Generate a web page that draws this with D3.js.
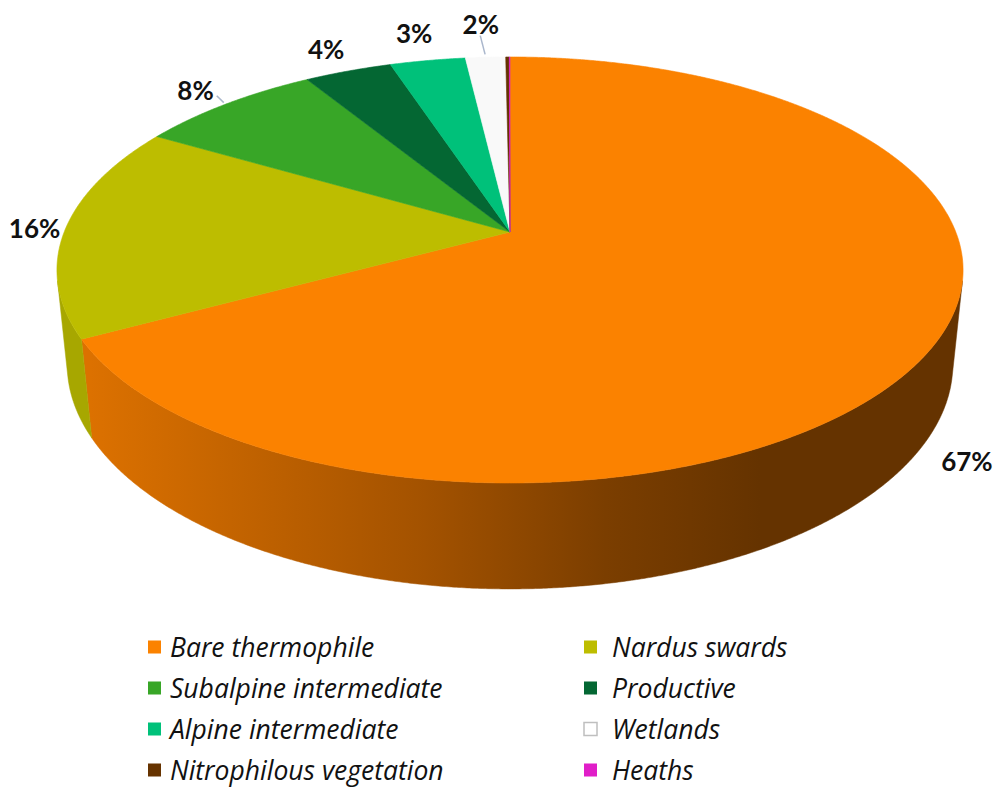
<!DOCTYPE html>
<html>
<head>
<meta charset="utf-8">
<script src="https://cdn.jsdelivr.net/npm/d3@7"></script>
<style>
  body { margin: 0; background: #fff; }
  svg { display: block; }
</style>
</head>
<body>
<script>
// vegetation types, share of area (%)
var categories = ["Bare thermophile", "Nardus swards", "Subalpine intermediate", "Productive",
	"Alpine intermediate", "Wetlands", "Nitrophilous vegetation", "Heaths"];
var values = [67.1, 16.3, 7.8, 3.7, 3.2, 1.7, 0.15, 0.03];
var colors = ["#fb8200", "#bdbd00", "#38a627", "#046733", "#00c17a", "#f9f9f9", "#663300", "#e01ec8"];
var leaderFor = ["Subalpine intermediate", "Wetlands"];

var width = 1002, height = 787;

// camera for the tilted pie (perspective, like the office 3d pie)
var cam = {cx: 510, cy: 232, f: 2216.5, d: 4.972, s: 0.4626, c: 0.8866, h: 0.2405};

function proj(r, a, z) {
	var x = r * Math.sin(a), y = r * Math.cos(a);
	var dist = cam.d + y * cam.c - z * cam.s;
	var up = y * cam.s + z * cam.c;
	return [cam.cx + cam.f * x / dist, cam.cy - cam.f * up / dist];
}

function arcPoints(a0, a1, z) {
	var n = Math.max(2, Math.ceil((a1 - a0) / 0.005));
	var pts = [];
	for (var i = 0; i <= n; i++) pts.push(proj(1, a0 + (a1 - a0) * i / n, z));
	return pts;
}

var svg = d3.select("body").append("svg")
	.attr("width", width)
	.attr("height", height);

var defs = svg.append("defs");
var grad = defs.append("linearGradient")
	.attr("id", "wallOrange")
	.attr("gradientUnits", "userSpaceOnUse")
	.attr("x1", 90).attr("x2", 760).attr("y1", 0).attr("y2", 0);
[[0, "#dc7100"], [0.5, "#a35200"], [0.77, "#7b3e00"], [1, "#653300"]].forEach(function(s) {
	grad.append("stop").attr("offset", s[0]).attr("stop-color", s[1]);
});

var pie = d3.pie().sort(null).value(function(d) { return d; });
var slices = pie(values);

var line = d3.line();

// visible part of the outer wall
var vis0 = Math.acos(-1 / (cam.d * cam.c));
var vis1 = 2 * Math.PI - vis0;

var g = svg.append("g");

// walls first
slices.forEach(function(sl, i) {
	var a0 = Math.max(sl.startAngle, vis0), a1 = Math.min(sl.endAngle, vis1);
	if (a1 <= a0) return;
	var top = arcPoints(a0, a1, 0);
	var bot = arcPoints(a0, a1, -cam.h).reverse();
	var fill = i === 0 ? "url(#wallOrange)" : d3.color(colors[i]).darker(0.35).formatHex();
	g.append("path")
		.attr("d", line(top.concat(bot)) + "Z")
		.attr("fill", fill)
		.attr("stroke", fill)
		.attr("stroke-width", 0.5);
});

// top faces
slices.forEach(function(sl, i) {
	var pts = [proj(0, 0, 0)].concat(arcPoints(sl.startAngle, sl.endAngle, 0));
	g.append("path")
		.attr("d", line(pts) + "Z")
		.attr("fill", colors[i])
		.attr("stroke", colors[i])
		.attr("stroke-width", 0.6);
});

// data labels
var total = d3.sum(values);
var center = proj(0, 0, 0);
slices.forEach(function(sl, i) {
	var pct = Math.round(sl.value / total * 100);
	if (pct < 1) return;
	var mid = (sl.startAngle + sl.endAngle) / 2;
	var near = Math.cos(mid) < -0.2;
	var hasLeader = leaderFor.indexOf(categories[i]) >= 0;
	var t = g.append("text")
		.attr("font-family", "Lato, 'Open Sans', sans-serif")
		.attr("font-weight", "bold")
		.attr("font-size", 26)
		.attr("fill", "#111")
		.attr("text-anchor", "middle")
		.attr("dominant-baseline", "central")
		.text(pct + "%");
	var bb = t.node().getBBox();
	var anchor = proj(1, mid, near ? -cam.h : 0);
	var dx = anchor[0] - center[0], dy = anchor[1] - center[1];
	var len = Math.sqrt(dx * dx + dy * dy);
	var ux = dx / len, uy = dy / len;
	var lx, ly;
	if (near) {
		var p = proj(1.1, mid, -cam.h);
		lx = p[0]; ly = p[1];
	} else {
		var off = 31 + (hasLeader ? 3 : 0);
		lx = anchor[0] + ux * off; ly = anchor[1] + uy * off;
	}
	t.attr("x", lx).attr("y", ly);
	if (hasLeader) {
		var side = Math.abs(ux) > 0.7;
		var ex = side ? lx - ux / Math.abs(ux) * (bb.width / 2 + 3) : lx + ux * 4;
		var ey = side ? ly + 6 : ly + bb.height / 2 - 4;
		g.append("line")
			.attr("x1", ex).attr("y1", ey)
			.attr("x2", anchor[0] + ux * 3).attr("y2", anchor[1] + uy * 3)
			.attr("stroke", "#aab7cc")
			.attr("stroke-width", 1.5);
	}
});

// legend, two columns
var legend = svg.append("g");
var colX = [148, 584], rowY0 = 647, rowStep = 41;
categories.forEach(function(name, i) {
	var col = i % 2, row = Math.floor(i / 2);
	var item = legend.append("g")
		.attr("transform", "translate(" + colX[col] + "," + (rowY0 + row * rowStep) + ")");
	item.append("rect")
		.attr("x", 0).attr("y", -6.5)
		.attr("width", 13).attr("height", 13)
		.attr("fill", name === "Wetlands" ? "#ffffff" : colors[i])
		.attr("stroke", name === "Wetlands" ? "#bfbfbf" : "none")
		.attr("stroke-width", 1.5);
	item.append("text")
		.attr("x", col === 0 ? 22 : 28)
		.attr("y", 0)
		.attr("dominant-baseline", "central")
		.attr("font-family", "'Open Sans', sans-serif")
		.attr("font-style", "italic")
		.attr("font-size", 26.5)
		.attr("fill", "#111")
		.text(name);
});
</script>
</body>
</html>
